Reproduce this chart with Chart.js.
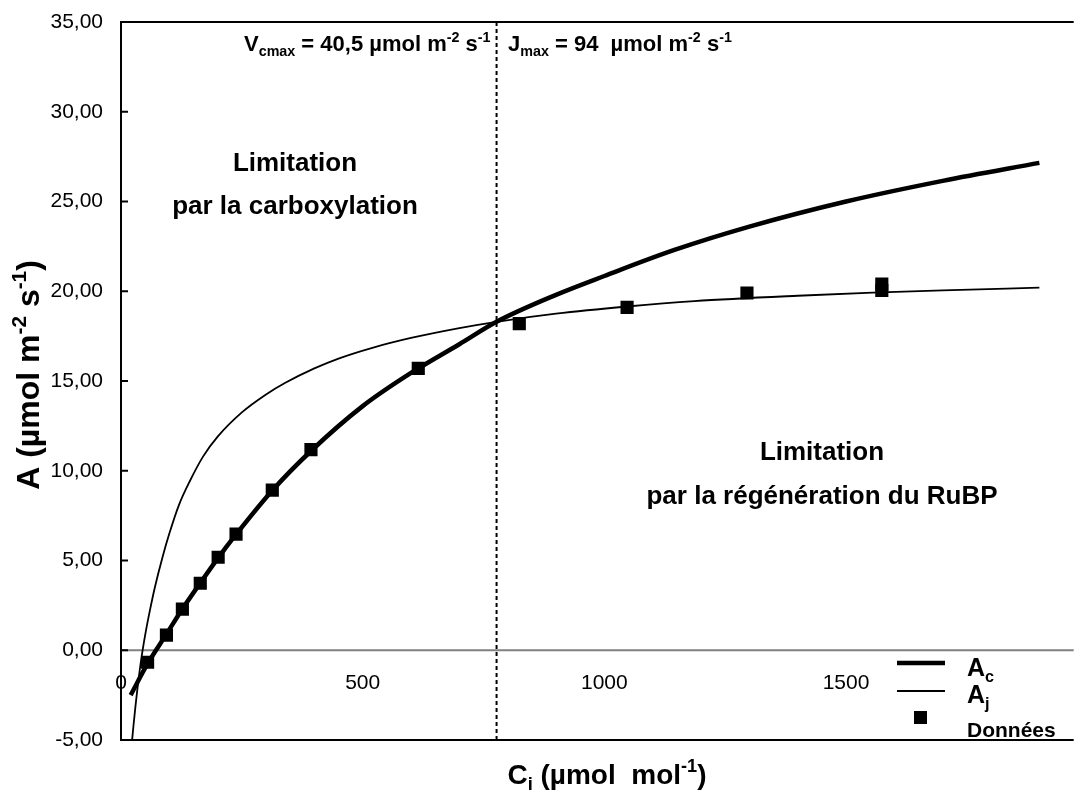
<!DOCTYPE html>
<html>
<head>
<meta charset="utf-8">
<script src="https://cdn.jsdelivr.net/npm/chart.js@4.4.0/dist/chart.umd.min.js"></script>
<style>
  body { margin: 0; background: #fff; }
  canvas { display: block; }
</style>
</head>
<body>
<canvas id="aciChart" width="1083" height="794"></canvas>
<script>
// measured points (Ci in µmol mol-1, A in µmol m-2 s-1)
const ciData = [55, 94, 127, 164, 201, 238, 313, 393, 615, 824, 1047, 1295, 1574, 1574];
const aData = [-0.67, 0.84, 2.29, 3.73, 5.18, 6.47, 8.92, 11.18, 15.7, 18.2, 19.1, 19.9, 20.4, 20.05];

// Ac curve (carboxylation limited)
const ciAc = [20, 55, 94, 127, 164, 201, 238, 313, 393, 500, 600, 700, 777, 900, 1000, 1145, 1300, 1500, 1700, 1900];
const aAc = [-2.5, -0.75, 0.9, 2.3, 3.75, 5.15, 6.45, 8.9, 11.1, 13.6, 15.45, 17.05, 18.3, 19.8, 20.85, 22.3, 23.6, 25.0, 26.15, 27.15];

// Aj curve (RuBP regeneration limited)
const ciAj = [22, 26, 30, 35, 40, 45, 52, 60, 70, 86, 100, 120, 142, 170, 200, 250, 300, 340, 400, 450, 520, 600, 700, 777, 900, 1047, 1186, 1400, 1555, 1700, 1900];
const aAj = [-5.3, -4.15, -3.1, -1.9, -0.85, 0.05, 1.15, 2.25, 3.5, 5.2, 6.5, 8.1, 9.4, 10.8, 11.9, 13.25, 14.25, 14.9, 15.7, 16.25, 16.85, 17.4, 17.95, 18.3, 18.75, 19.15, 19.45, 19.75, 19.92, 20.05, 20.2];

// transition Ci (dashed line)
const ciTransition = 777;

const yTicks = [-5, 0, 5, 10, 15, 20, 25, 30, 35];
const xTicks = [0, 500, 1000, 1500];

const FONT = '"Liberation Sans", Arial, sans-serif';

function pts(xs, ys) {
    return xs.map((x, i) => ({ x: x, y: ys[i] }));
}

// text with sub/superscripts: parts = [[text, 'sub'|'sup'|'']]
function richWidth(ctx, parts, size) {
    let w = 0;
    parts.forEach(p => {
        const s = p[1] ? size * 0.65 : size;
        ctx.font = 'bold ' + s + 'px ' + FONT;
        w += ctx.measureText(p[0]).width;
    });
    return w;
}
function drawRich(ctx, parts, x, y, size, align) {
    const w = richWidth(ctx, parts, size);
    let cx = align === 'center' ? x - w / 2 : x;
    ctx.textAlign = 'left';
    ctx.textBaseline = 'alphabetic';
    ctx.fillStyle = '#000';
    parts.forEach(p => {
        const s = p[1] ? size * 0.65 : size;
        let dy = 0;
        if (p[1] === 'sub') dy = size * 0.22;
        if (p[1] === 'sup') dy = -size * 0.42;
        ctx.font = 'bold ' + s + 'px ' + FONT;
        ctx.fillText(p[0], cx, y + dy);
        cx += ctx.measureText(p[0]).width;
    });
}

const frame = {
    id: 'frame',
    beforeDatasetsDraw(chart) {
        const { ctx, chartArea: a, scales: { y } } = chart;
        ctx.save();
        // x axis at A = 0
        ctx.strokeStyle = '#808080';
        ctx.lineWidth = 2;
        ctx.beginPath();
        ctx.moveTo(a.left, y.getPixelForValue(0));
        ctx.lineTo(a.right, y.getPixelForValue(0));
        ctx.stroke();
        ctx.restore();
    },
    afterDraw(chart) {
        const { ctx, chartArea: a, scales: { x, y } } = chart;
        ctx.save();
        ctx.strokeStyle = '#000';
        ctx.lineWidth = 2;
        ctx.beginPath();
        ctx.moveTo(a.right, a.top);
        ctx.lineTo(a.left, a.top);
        ctx.lineTo(a.left, a.bottom);
        ctx.lineTo(a.right, a.bottom);
        ctx.stroke();

        // y ticks (inside) and labels
        ctx.font = '21px ' + FONT;
        ctx.fillStyle = '#000';
        ctx.textAlign = 'right';
        ctx.textBaseline = 'middle';
        yTicks.forEach(v => {
            const py = y.getPixelForValue(v);
            ctx.beginPath();
            ctx.moveTo(a.left, py);
            ctx.lineTo(a.left + 7, py);
            ctx.stroke();
            ctx.fillText(v.toFixed(2).replace('.', ','), a.left - 18, py);
        });
        // x tick labels under the zero line
        ctx.textAlign = 'center';
        xTicks.forEach(v => {
            ctx.fillText(String(v), x.getPixelForValue(v), y.getPixelForValue(0) + 33);
        });

        // axis titles
        drawRich(ctx, [['C', ''], ['i', 'sub'], [' (µmol  mol', ''], ['-1', 'sup'], [')', '']], 607, 784, 28, 'center');
        ctx.save();
        ctx.translate(39, 375);
        ctx.rotate(-Math.PI / 2);
        drawRich(ctx, [['A (µmol m', ''], ['-2', 'sup'], [' s', ''], ['-1', 'sup'], [')', '']], 0, 0, 32, 'center');
        ctx.restore();

        // parameter labels
        drawRich(ctx, [['V', ''], ['cmax', 'sub'], [' = 40,5 µmol m', ''], ['-2', 'sup'], [' s', ''], ['-1', 'sup']], 244, 51, 22, 'left');
        drawRich(ctx, [['J', ''], ['max', 'sub'], [' = 94  µmol m', ''], ['-2', 'sup'], [' s', ''], ['-1', 'sup']], 508, 51, 22, 'left');

        // limitation zones
        drawRich(ctx, [['Limitation', '']], 295, 171, 26, 'center');
        drawRich(ctx, [['par la carboxylation', '']], 295, 214, 26, 'center');
        drawRich(ctx, [['Limitation', '']], 822, 460, 26, 'center');
        drawRich(ctx, [['par la régénération du RuBP', '']], 822, 504, 26, 'center');

        // legend
        ctx.strokeStyle = '#000';
        ctx.lineWidth = 4.5;
        ctx.beginPath();
        ctx.moveTo(897, 663);
        ctx.lineTo(945, 663);
        ctx.stroke();
        ctx.lineWidth = 1.8;
        ctx.beginPath();
        ctx.moveTo(897, 691);
        ctx.lineTo(945, 691);
        ctx.stroke();
        ctx.fillStyle = '#000';
        ctx.fillRect(914, 711, 13, 13);
        drawRich(ctx, [['A', ''], ['c', 'sub']], 967, 676, 25, 'left');
        drawRich(ctx, [['A', ''], ['j', 'sub']], 967, 703, 25, 'left');
        drawRich(ctx, [['Données', '']], 967, 737, 21, 'left');
        ctx.restore();
    }
};

new Chart(document.getElementById('aciChart'), {
    type: 'scatter',
    data: {
        datasets: [
            {
                label: 'Ac',
                data: pts(ciAc, aAc),
                showLine: true,
                borderColor: '#000',
                borderWidth: 4.5,
                pointRadius: 0,
                cubicInterpolationMode: 'monotone'
            },
            {
                label: 'Aj',
                data: pts(ciAj, aAj),
                showLine: true,
                borderColor: '#000',
                borderWidth: 1.8,
                pointRadius: 0,
                cubicInterpolationMode: 'monotone'
            },
            {
                label: 'Données',
                data: pts(ciData, aData),
                pointStyle: 'rect',
                pointRadius: 9.3,
                backgroundColor: '#000',
                borderColor: '#000',
                borderWidth: 0
            },
            {
                label: 'transition',
                data: [{ x: ciTransition, y: -5 }, { x: ciTransition, y: 35 }],
                showLine: true,
                borderColor: '#000',
                borderWidth: 2,
                borderDash: [4, 3],
                pointRadius: 0
            }
        ]
    },
    options: {
        responsive: false,
        animation: false,
        devicePixelRatio: 1,
        layout: { padding: { left: 121, top: 22, right: 0, bottom: 54 } },
        plugins: { legend: { display: false }, tooltip: { enabled: false } },
        scales: {
            x: { type: 'linear', min: 0, max: 1971, display: false },
            y: { type: 'linear', min: -5, max: 35, display: false }
        }
    },
    plugins: [frame]
});
</script>
</body>
</html>
